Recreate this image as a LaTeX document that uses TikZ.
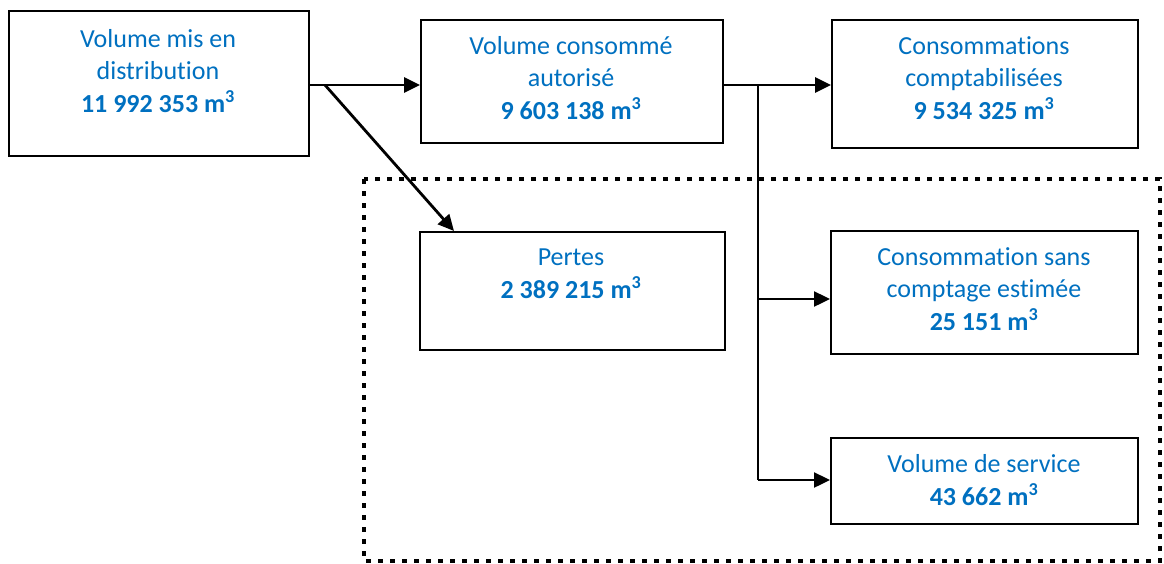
\documentclass[tikz,border=0pt]{standalone}
\usepackage{fontspec}
\setmainfont{Carlito}[Ligatures={NoCommon}]
\usetikzlibrary{arrows.meta,calc}
\definecolor{txtblue}{HTML}{0070C0}
\begin{document}
\begin{tikzpicture}[x=1pt,y=-1pt,
  box/.style={draw=black,line width=2.3pt,rectangle,inner sep=0pt,anchor=north west},
  lbl/.style={text=txtblue,align=center,inner sep=0pt,anchor=base,
    font=\fontsize{26}{32.5}\selectfont},
  arr/.style={draw=black,line width=2.8pt,-{Triangle[length=16pt,width=15pt]}},
  thin/.style={draw=black,line width=2.2pt},
  tarr/.style={draw=black,line width=2.4pt,-{Triangle[length=16pt,width=15pt]}},
  dotbox/.style={draw=black,line width=4.8pt,dash pattern=on 5pt off 7pt}]
\useasboundingbox (0,0) rectangle (1164,563);
% frame
\draw[dotbox] (364,179) rectangle (1160,561);
% boxes
\node[box,minimum width=300pt,minimum height=145pt] (b1) at (8,10) {};
\node[box,minimum width=302pt,minimum height=123pt] (b2) at (420,19) {};
\node[box,minimum width=306pt,minimum height=128pt] (b3) at (831,19) {};
\node[box,minimum width=305pt,minimum height=118pt] (pe) at (419,231) {};
\node[box,minimum width=307pt,minimum height=123pt] (b5) at (830,230) {};
\node[box,minimum width=307pt,minimum height=86pt] (b6) at (830,437) {};
% labels (anchored at the baseline of the last line)
\node[lbl] (t1) at (158,112) {Volume mis en\\distribution\\\textbf{11 992 353 m\textsuperscript{3}}};
\node[lbl] (t2) at (571,119) {Volume consommé\\autorisé\\\textbf{9 603 138 m\textsuperscript{3}}};
\node[lbl] (t3) at (984,119) {Consommations\\comptabilisées\\\textbf{9 534 325 m\textsuperscript{3}}};
\node[lbl] (t4) at (571,298) {Pertes\\\textbf{2 389 215 m\textsuperscript{3}}};
\node[lbl] (t5) at (984,330) {Consommation sans\\comptage estimée\\\textbf{25 151 m\textsuperscript{3}}};
\node[lbl] (t6) at (984,505) {Volume de service\\\textbf{43 662 m\textsuperscript{3}}};
% connectors
\coordinate (j1) at (325,85);
\coordinate (j2) at (758,85);
\coordinate (j3) at (758,299);
\coordinate (j4) at (758,480);
\draw[arr] (b1.east |- j1) -- (b2.west |- j1);
\draw[arr] (j1) -- ($(pe.north west)+(35,0)$);
\draw[arr] (b2.east |- j2) -- (b3.west |- j2);
\draw[thin] (j2) -- (j4);
\draw[tarr] (j3) -- (b5.west |- j3);
\draw[tarr] (j4) -- (b6.west |- j4);
\end{tikzpicture}
\end{document}
